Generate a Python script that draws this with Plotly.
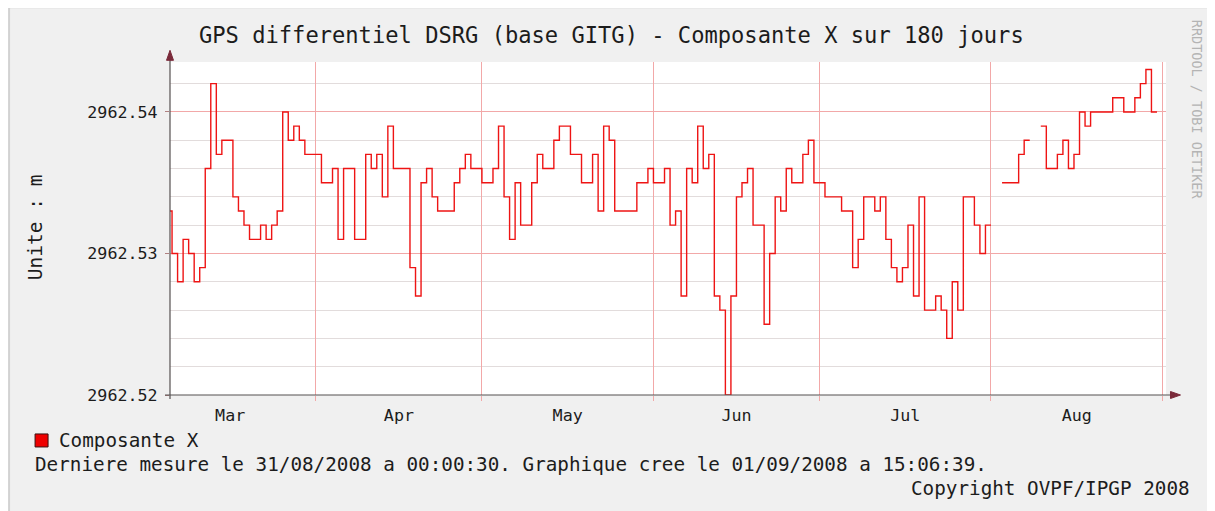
import plotly.graph_objects as go
import pandas as pd

# ---- data (daily values, timestamp = end of each daily interval, RRD style) ----
start_date = "2008-03-05"
values_m = [
    # Mar 5 .. Mar 31
    2962.533, 2962.533, 2962.530, 2962.528, 2962.531, 2962.530, 2962.528, 2962.529, 2962.536,
    2962.542, 2962.537, 2962.538, 2962.538, 2962.534, 2962.533, 2962.532, 2962.531, 2962.531,
    2962.532, 2962.531, 2962.532, 2962.533, 2962.540, 2962.538, 2962.539, 2962.538, 2962.537,
    # Apr 1 .. Apr 30
    2962.537, 2962.537, 2962.535, 2962.535, 2962.536, 2962.531, 2962.536, 2962.536, 2962.531,
    2962.531, 2962.537, 2962.536, 2962.537, 2962.534, 2962.539, 2962.536, 2962.536, 2962.536,
    2962.529, 2962.527, 2962.535, 2962.536, 2962.534, 2962.533, 2962.533, 2962.533, 2962.535,
    2962.536, 2962.537, 2962.536,
    # May 1 .. May 31
    2962.536, 2962.535, 2962.535, 2962.536, 2962.539, 2962.534, 2962.531, 2962.535, 2962.532,
    2962.532, 2962.535, 2962.537, 2962.536, 2962.536, 2962.538, 2962.539, 2962.539, 2962.537,
    2962.537, 2962.535, 2962.535, 2962.537, 2962.533, 2962.539, 2962.538, 2962.533, 2962.533,
    2962.533, 2962.533, 2962.535, 2962.535,
    # Jun 1 .. Jun 30
    2962.536, 2962.535, 2962.535, 2962.536, 2962.532, 2962.533, 2962.527, 2962.536, 2962.535,
    2962.539, 2962.536, 2962.537, 2962.527, 2962.526, 2962.520, 2962.527, 2962.534, 2962.535,
    2962.536, 2962.532, 2962.532, 2962.525, 2962.530, 2962.534, 2962.533, 2962.536, 2962.535,
    2962.535, 2962.537, 2962.538,
    # Jul 1 .. Jul 31
    2962.535, 2962.535, 2962.534, 2962.534, 2962.534, 2962.533, 2962.533, 2962.529, 2962.531,
    2962.534, 2962.534, 2962.533, 2962.534, 2962.531, 2962.529, 2962.528, 2962.529, 2962.532,
    2962.527, 2962.534, 2962.526, 2962.526, 2962.527, 2962.526, 2962.524, 2962.528, 2962.526,
    2962.534, 2962.534, 2962.532, 2962.530,
    # Aug 1 .. Aug 31
    2962.532, None, 2962.535, 2962.535, 2962.535, 2962.535, 2962.537, 2962.538, None,
    2962.539, 2962.539, 2962.536, 2962.536, 2962.537, 2962.538, 2962.536, 2962.537, 2962.540,
    2962.539, 2962.540, 2962.540, 2962.540, 2962.540, 2962.541, 2962.541, 2962.540, 2962.540,
    2962.541, 2962.542, 2962.543, 2962.540,
]
dates = pd.date_range(start_date, periods=len(values_m), freq="D")

series_name = "Composante X"
title_text = "GPS differentiel DSRG (base GITG) - Composante X sur 180 jours"
unit_text = "Unite : m"
footer_text = "Derniere mesure le 31/08/2008 a 00:00:30. Graphique cree le 01/09/2008 a 15:06:39."
copyright_text = "Copyright OVPF/IPGP 2008"
watermark_text = "RRDTOOL / TOBI OETIKER"
x_range = ["2008-03-05 15:06:39", "2008-09-01 15:06:39"]
y_range = [2962.52, 2962.54353]

# ---- geometry (page pixels; the page body adds an 8px offset) ----
OFF = 8
W, H = 1215 - OFF, 511 - OFF
L, R, T, B = 170, 1166.5, 61.7, 395          # plot area in page pixels
def px(x):
    return (x - L) / (R - L)
def py(y):
    return (B - y) / (B - T)

FONT = "DejaVu Sans Mono"
TXT = "#1c1c1c"
GRID_MAJOR = "#f2a8a8"
GRID_MINOR = "#e2dcdc"

fig = go.Figure()
fig.add_trace(go.Scatter(
    x=dates, y=values_m, mode="lines", name=series_name,
    line=dict(color="#ee1414", width=1.4, shape="vh"),
    connectgaps=False, showlegend=False, hoverinfo="x+y",
))

shapes = [
    dict(type="rect", xref="paper", yref="paper", x0=px(9), x1=px(1209.5), y0=py(7), y1=py(530),
         fillcolor="#f0f0f0", line=dict(color="#d2d2d2", width=2), layer="below"),
    dict(type="rect", xref="paper", yref="paper", x0=0, x1=1, y0=0, y1=1,
         fillcolor="#ffffff", line=dict(width=0), layer="below"),
    dict(type="line", xref="paper", yref="paper", x0=px(170), x1=px(170), y0=py(399), y1=py(54),
         line=dict(color="#555050", width=1.2)),
    dict(type="line", xref="paper", yref="paper", x0=px(165), x1=px(1174), y0=py(395), y1=py(395),
         line=dict(color="#555050", width=1.2)),
    dict(type="path", xref="paper", yref="paper",
         path=f"M {px(166.5)},{py(60)} L {px(173.5)},{py(60)} L {px(170)},{py(50)} Z",
         fillcolor="#7a2a3a", line=dict(color="#7a2a3a", width=1)),
    dict(type="path", xref="paper", yref="paper",
         path=f"M {px(1171)},{py(391.5)} L {px(1171)},{py(398.5)} L {px(1181)},{py(395)} Z",
         fillcolor="#7a2a3a", line=dict(color="#7a2a3a", width=1)),
    dict(type="rect", xref="paper", yref="paper", x0=px(35), x1=px(48), y0=py(447), y1=py(434),
         fillcolor="#ee0000", line=dict(color="#3a1010", width=1)),
]

annotations = [
    dict(text=title_text, x=px(612), y=py(35), xref="paper", yref="paper", showarrow=False,
         xanchor="center", yanchor="middle", font=dict(family=FONT, size=22.1, color=TXT)),
    dict(text=unit_text, x=px(35), y=py(227), xref="paper", yref="paper", showarrow=False,
         textangle=-90, xanchor="center", yanchor="middle", font=dict(family=FONT, size=19.5, color=TXT)),
    dict(text=watermark_text, x=px(1197), y=py(110), xref="paper", yref="paper", showarrow=False,
         textangle=90, xanchor="center", yanchor="middle", font=dict(family=FONT, size=13.5, color="#b4b4b4")),
    dict(text=series_name, x=px(57), y=py(441), xref="paper", yref="paper", showarrow=False,
         xanchor="left", yanchor="middle", font=dict(family=FONT, size=19.3, color=TXT)),
    dict(text=footer_text, x=px(33), y=py(465), xref="paper", yref="paper", showarrow=False,
         xanchor="left", yanchor="middle", font=dict(family=FONT, size=19.3, color=TXT)),
    dict(text=copyright_text, x=px(1193), y=py(489), xref="paper", yref="paper", showarrow=False,
         xanchor="right", yanchor="middle", font=dict(family=FONT, size=19.3, color=TXT)),
]

fig.update_layout(
    width=W, height=H, autosize=False,
    margin=dict(l=L - OFF, r=W - (R - OFF), t=T - OFF, b=H - (B - OFF), pad=0),
    paper_bgcolor="#ffffff", plot_bgcolor="rgba(0,0,0,0)",
    shapes=shapes, annotations=annotations,
    showlegend=False,
    font=dict(family=FONT, color=TXT),
)
fig.update_xaxes(
    type="date", range=x_range, dtick="M1", tick0="2008-03-01",
    ticklabelmode="period", tickformat="%b",
    showgrid=True, gridcolor=GRID_MAJOR, gridwidth=1,
    ticks="outside", ticklen=5, tickcolor=GRID_MAJOR,
    showline=False, zeroline=False,
    tickfont=dict(family=FONT, size=16.7, color=TXT),
)
fig.update_yaxes(
    range=y_range, dtick=0.01, tick0=2962.52, tickformat=".2f",
    showgrid=True, gridcolor=GRID_MAJOR, gridwidth=1,
    minor=dict(dtick=0.002, tick0=2962.52, showgrid=True, gridcolor=GRID_MINOR, gridwidth=1),
    ticks="outside", ticklen=4, tickcolor="#b08080", ticklabelstandoff=4,
    showline=False, zeroline=False,
    tickfont=dict(family=FONT, size=16.7, color=TXT),
)

fig.write_html("out.html")
